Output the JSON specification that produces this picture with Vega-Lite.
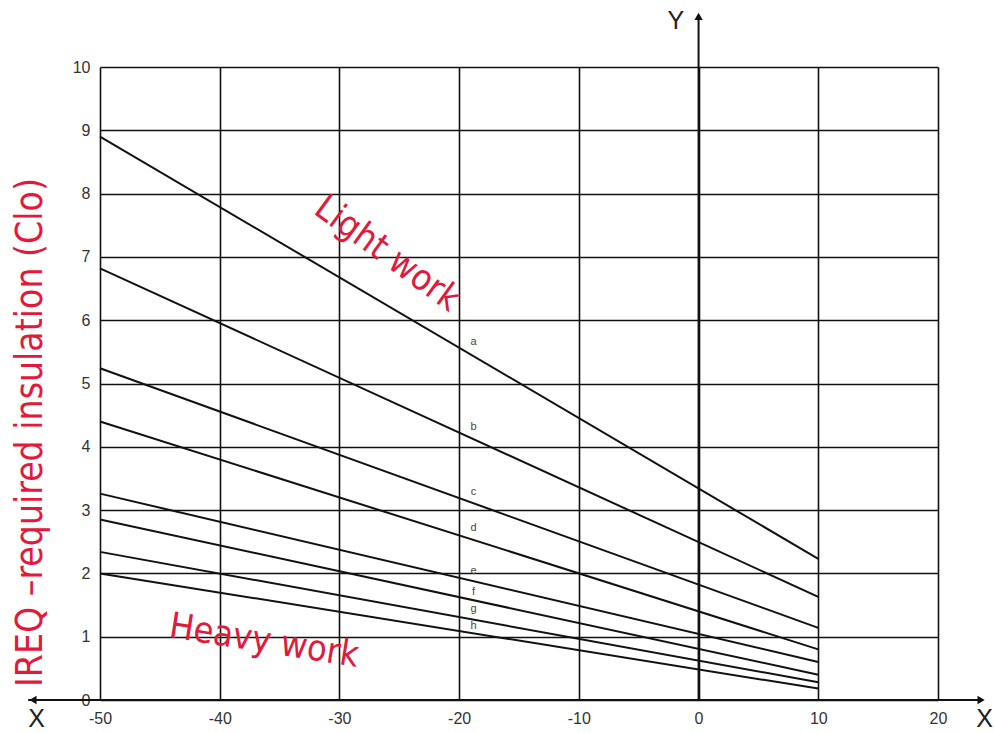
{
  "$schema": "https://vega.github.io/schema/vega-lite/v6.json",
  "width": 838,
  "height": 633,
  "autosize": "none",
  "padding": {"left": 100, "top": 67, "right": 56, "bottom": 33},
  "background": "white",
  "config": {"view": {"stroke": null}},
  "datasets": {
    "curves": [
      {"series": "a", "x": -50, "y": 8.9}, {"series": "a", "x": 10, "y": 2.23},
      {"series": "b", "x": -50, "y": 6.82}, {"series": "b", "x": 10, "y": 1.63},
      {"series": "c", "x": -50, "y": 5.24}, {"series": "c", "x": 10, "y": 1.14},
      {"series": "d", "x": -50, "y": 4.4}, {"series": "d", "x": 10, "y": 0.8},
      {"series": "e", "x": -50, "y": 3.26}, {"series": "e", "x": 10, "y": 0.6},
      {"series": "f", "x": -50, "y": 2.85}, {"series": "f", "x": 10, "y": 0.4},
      {"series": "g", "x": -50, "y": 2.34}, {"series": "g", "x": 10, "y": 0.28},
      {"series": "h", "x": -50, "y": 2.0}, {"series": "h", "x": 10, "y": 0.18}
    ],
    "curveLabels": [
      {"label": "a", "x": -18.8, "y": 5.66},
      {"label": "b", "x": -18.8, "y": 4.31},
      {"label": "c", "x": -18.8, "y": 3.29},
      {"label": "d", "x": -18.8, "y": 2.72},
      {"label": "e", "x": -18.8, "y": 2.04},
      {"label": "f", "x": -18.8, "y": 1.71},
      {"label": "g", "x": -18.8, "y": 1.44},
      {"label": "h", "x": -18.8, "y": 1.17}
    ],
    "axisLines": [
      {"x1": -56, "x2": 23.6, "y1": 0, "y2": 0},
      {"x1": 0, "x2": 0, "y1": 0, "y2": 10.8}
    ],
    "arrows": [
      {"end": "left", "x": -55.6, "y": 0},
      {"end": "right", "x": 23.6, "y": 0},
      {"end": "up", "x": 0, "y": 10.8}
    ],
    "axisLetters": [
      {"label": "X", "x": -55.3, "y": -0.3},
      {"label": "X", "x": 23.9, "y": -0.3},
      {"label": "Y", "x": -1.9, "y": 10.72}
    ],
    "notes": [
      {"label": "Light work", "x": -26.0, "y": 7.05, "kind": "light"},
      {"label": "Heavy work", "x": -36.3, "y": 0.93, "kind": "heavy"}
    ]
  },
  "layer": [
    {
      "data": {"name": "curves"},
      "mark": {"type": "line", "color": "#111", "strokeWidth": 2},
      "encoding": {
        "x": {
          "field": "x", "type": "quantitative",
          "scale": {"domain": [-50, 20], "nice": false, "zero": false},
          "axis": {
            "values": [-50, -40, -30, -20, -10, 0, 10, 20],
            "labelExpr": "replace(format(datum.value, 'd'), '−', '-')",
            "labelFlush": false, "labelOverlap": false,
            "title": null, "domain": false, "ticks": false,
            "grid": true, "gridColor": "#111", "gridWidth": 1.6,
            "labelFont": "Liberation Sans", "labelFontSize": 16, "labelColor": "#333",
            "labelPadding": 10
          }
        },
        "y": {
          "field": "y", "type": "quantitative",
          "scale": {"domain": [0, 10], "nice": false},
          "axis": {
            "values": [0, 1, 2, 3, 4, 5, 6, 7, 8, 9, 10],
            "format": "d",
            "labelFlush": false, "labelOverlap": false,
            "title": "IREQ –required insulation (Clo)",
            "titleFont": "DejaVu Sans Condensed, Liberation Sans Narrow, sans-serif",
            "titleFontSize": 37, "titleFontWeight": "normal", "titleColor": "#e3193b",
            "titleAngle": -90, "titleX": -70, "titleY": 365, "titleAlign": "center", "titleBaseline": "middle",
            "domain": false, "ticks": false,
            "grid": true, "gridColor": "#111", "gridWidth": 1.6,
            "labelFont": "Liberation Sans", "labelFontSize": 16, "labelColor": "#333",
            "labelPadding": 10
          }
        },
        "detail": {"field": "series"}
      }
    },
    {
      "data": {"name": "axisLines"},
      "mark": {"type": "rule", "color": "#111", "strokeWidth": 2},
      "encoding": {
        "x": {"field": "x1", "type": "quantitative"},
        "x2": {"field": "x2"},
        "y": {"field": "y1", "type": "quantitative"},
        "y2": {"field": "y2"}
      }
    },
    {
      "data": {"name": "arrows"},
      "mark": {"type": "point", "filled": true, "color": "#111", "size": 70, "opacity": 1},
      "encoding": {
        "x": {"field": "x", "type": "quantitative"},
        "y": {"field": "y", "type": "quantitative"},
        "shape": {
          "field": "end", "type": "nominal",
          "scale": {"domain": ["left", "right", "up"], "range": ["triangle-left", "triangle-right", "triangle-up"]},
          "legend": null
        }
      }
    },
    {
      "data": {"name": "axisLetters"},
      "mark": {"type": "text", "font": "Liberation Sans", "fontSize": 25, "color": "#222", "align": "center", "baseline": "middle"},
      "encoding": {
        "x": {"field": "x", "type": "quantitative"},
        "y": {"field": "y", "type": "quantitative"},
        "text": {"field": "label"}
      }
    },
    {
      "data": {"name": "curveLabels"},
      "mark": {"type": "text", "font": "Liberation Sans", "fontSize": 11, "color": "#444", "align": "center", "baseline": "middle"},
      "encoding": {
        "x": {"field": "x", "type": "quantitative"},
        "y": {"field": "y", "type": "quantitative"},
        "text": {"field": "label"}
      }
    },
    {
      "data": {"name": "notes"},
      "transform": [{"filter": "datum.kind === 'light'"}],
      "mark": {"type": "text", "font": "DejaVu Sans Condensed, Liberation Sans Narrow, sans-serif", "fontSize": 36, "color": "#e3193b", "align": "center", "baseline": "middle", "angle": 36},
      "encoding": {
        "x": {"field": "x", "type": "quantitative"},
        "y": {"field": "y", "type": "quantitative"},
        "text": {"field": "label"}
      }
    },
    {
      "data": {"name": "notes"},
      "transform": [{"filter": "datum.kind === 'heavy'"}],
      "mark": {"type": "text", "font": "DejaVu Sans Condensed, Liberation Sans Narrow, sans-serif", "fontSize": 36, "color": "#e3193b", "align": "center", "baseline": "middle", "angle": 9},
      "encoding": {
        "x": {"field": "x", "type": "quantitative"},
        "y": {"field": "y", "type": "quantitative"},
        "text": {"field": "label"}
      }
    }
  ]
}
